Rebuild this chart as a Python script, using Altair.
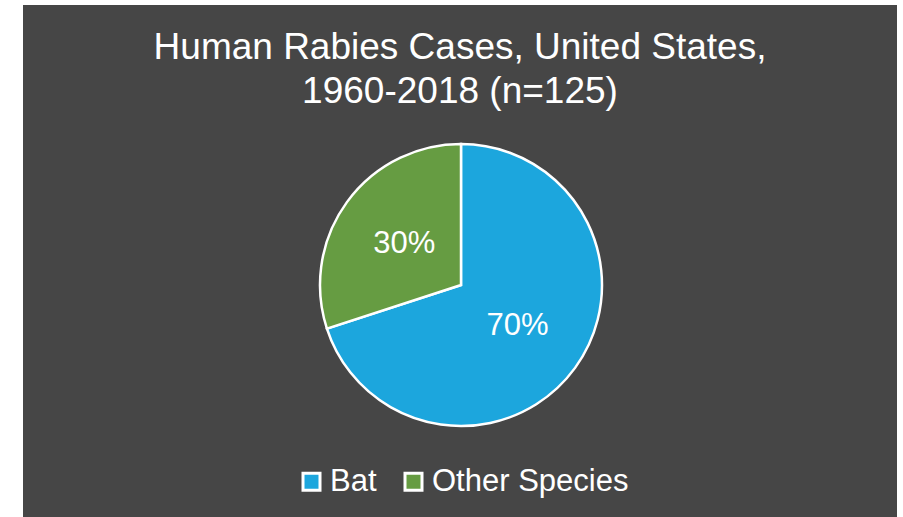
import altair as alt
import pandas as pd

categories = ["Bat", "Other Species"]
shares = [70, 30]
labels = ["70%", "30%"]
colors = ["#1CA6DD", "#669C42"]
title_lines = ["Human Rabies Cases, United States,", "1960-2018 (n=125)"]

df = pd.DataFrame({"category": categories, "share": shares, "label": labels, "rank": [0, 1]})

FONT = "Liberation Sans"
CX, CY = 438, 280

base = alt.Chart(df).encode(
    theta=alt.Theta("share:Q", stack=True),
    order=alt.Order("rank:Q"),
)

pie = base.mark_arc(radius=141, stroke="white", strokeWidth=2.5).encode(
    color=alt.Color(
        "category:N",
        scale=alt.Scale(domain=categories, range=colors),
        legend=alt.Legend(
            title=None,
            orient="none",
            legendX=273,
            legendY=461,
            direction="horizontal",
            symbolType="square",
            symbolSize=289,
            symbolStrokeColor="white",
            symbolStrokeWidth=3,
            symbolOpacity=1,
            labelFont=FONT,
            labelFontSize=31,
            labelColor="white",
            labelOffset=3,
            labelLimit=0,
            columnPadding=21,
            padding=0,
        ),
    ),
    x=alt.value(CX),
    y=alt.value(CY),
)

text = base.mark_text(radius=70, font=FONT, fontSize=31, color="white").encode(
    text="label:N",
    x=alt.value(CX),
    y=alt.value(CY),
)

t1 = alt.Chart(pd.DataFrame({"line": [title_lines[0]]})).mark_text(
    font=FONT, fontSize=37, color="white", baseline="alphabetic", align="center"
).encode(text="line:N", x=alt.value(437), y=alt.value(54))
t2 = alt.Chart(pd.DataFrame({"line": [title_lines[1]]})).mark_text(
    font=FONT, fontSize=37, color="white", baseline="alphabetic", align="center"
).encode(text="line:N", x=alt.value(437), y=alt.value(98))

chart = alt.layer(pie, text, t1, t2).properties(
    width=874,
    height=512,
    padding={"left": 23, "top": 5, "right": 6, "bottom": 0},
    autosize=alt.AutoSizeParams(type="none"),
    background="white",
).configure_view(fill="#464646", strokeWidth=0)

chart.save("out.html", embed_options={"renderer": "svg", "actions": False})
